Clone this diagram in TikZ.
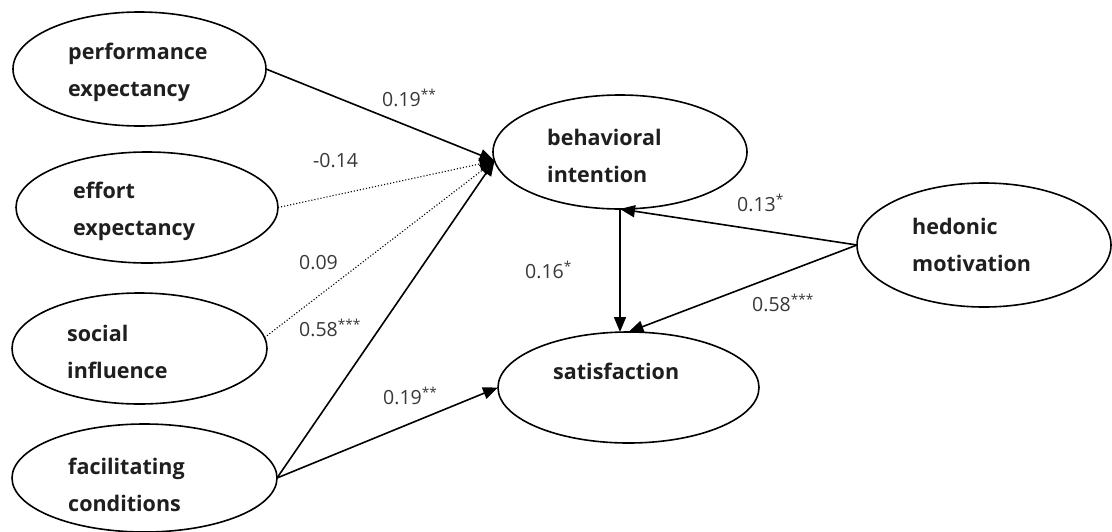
\documentclass[tikz,border=0pt]{standalone}
\usepackage{fontspec}
\setmainfont{Open Sans}
\usetikzlibrary{shapes.geometric,arrows.meta}
\begin{document}
\begin{tikzpicture}[x=1pt,y=-1pt,
  lv/.style={draw=black, line width=1.6pt, ellipse, inner sep=0pt, outer sep=0pt},
  nt/.style={anchor=west, align=left, inner sep=0pt, font=\fontsize{21.5}{37}\selectfont\bfseries, text=black!88},
  lab/.style={anchor=west, inner sep=0pt, font=\fontsize{19.5}{22}\selectfont, text=black!78},
  arr/.style={line width=1.6pt, -{Triangle[length=15pt,width=12pt]}},
  dotarr/.style={arr, line width=1.1pt, dotted}
]
\fill[white] (0,0) rectangle (1112,531);
\useasboundingbox (0,0) rectangle (1112,531);

% latent variables
\node[lv, minimum width=253pt, minimum height=114pt] (pe) at (139.5,69) {};
\node[lv, minimum width=262pt, minimum height=111pt] (ee) at (147,207.5) {};
\node[lv, minimum width=255pt, minimum height=111pt] (si) at (139.5,348.5) {};
\node[lv, minimum width=265pt, minimum height=108pt] (fc) at (144.5,478) {};
\node[lv, minimum width=254pt, minimum height=114pt] (bi) at (620,152) {};
\node[lv, minimum width=261pt, minimum height=111pt] (sat) at (628.5,387.5) {};
\node[lv, minimum width=254pt, minimum height=124pt] (hm) at (984,245) {};

% texts
\node[nt] (pet) at (68,72) {performance\\expectancy};
\node[nt] (eet) at (73,211.5) {effort\\expectancy};
\node[nt] (sit) at (67,352) {social\\influence};
\node[nt] (fct) at (68,485) {facilitating\\conditions};
\node[nt] (bit) at (547,155.5) {behavioral\\intention};
\node[nt] (hmt) at (912,245) {hedonic\\motivation};
\node[nt] (satt) at (553,371) {satisfaction};

% paths
\draw[arr] (pe.east) -- (bi.184);
\draw[dotarr] (ee.east) -- (bi.184);
\draw[dotarr] (si.5) -- (bi.184);
\draw[arr] (fc.east) -- (bi.184);
\draw[arr] (fc.east) -- (sat.west);
\draw[arr] (hm.west) -- (bi.south);
\draw[arr] (hm.west) -- (sat.north);
\draw[arr] (bi.south) -- (bi.south |- sat.north);

% coefficients
\node[lab] (l1) at (382,98) {0.19\textsuperscript{**}};
\node[lab] (l2) at (313,161) {-0.14};
\node[lab] (l3) at (299,263) {0.09};
\node[lab] (l4) at (299,328) {0.58\textsuperscript{***}};
\node[lab] (l5) at (383,396) {0.19\textsuperscript{**}};
\node[lab] (l6) at (525,270) {0.16\textsuperscript{*}};
\node[lab] (l7) at (737,203) {0.13\textsuperscript{*}};
\node[lab] (l8) at (752,303) {0.58\textsuperscript{***}};
\end{tikzpicture}
\end{document}
